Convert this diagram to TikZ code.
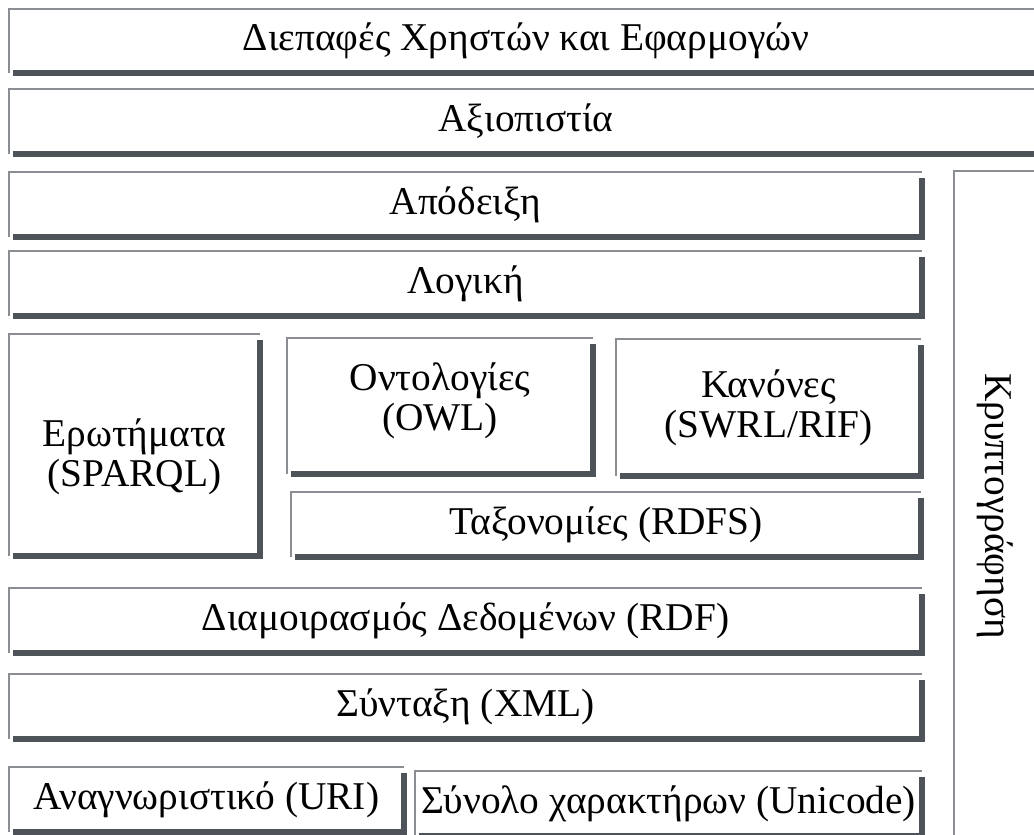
\documentclass[tikz,border=0pt]{standalone}
\usepackage{fontspec}
\setmainfont{Liberation Serif}
\definecolor{edgegray}{HTML}{8A8E92}
\definecolor{shadegray}{HTML}{4E5359}
\tikzset{
  layerfont/.style={font=\fontsize{11.2}{11.3}\selectfont, align=center},
  layer/.style={minimum width=#1, inner sep=0pt, layerfont},
  thinedge/.style={draw=edgegray, line width=0.5pt},
  thickedge/.style={draw=shadegray, line width=0.06cm, line join=miter}
}
\begin{document}
\begin{tikzpicture}[x=1cm,y=1cm]
\useasboundingbox (0,0) rectangle (10.34,8.34);
\clip (0,0) rectangle (10.34,8.34);

% upper layers
\node[layer=10.32cm, minimum height=0.62cm] (ui) at (5.26,7.93) {Διεπαφές Χρηστών και Εφαρμογών};
\node[layer=10.32cm, minimum height=0.63cm] (trust) at (5.26,7.125) {Αξιοπιστία};
\node[layer=9.11cm, minimum height=0.63cm] (proof) at (4.655,6.295) {Απόδειξη};
\node[layer=9.11cm, minimum height=0.63cm] (logic) at (4.655,5.505) {Λογική};

% middle block
\node[layer=2.49cm, minimum height=2.20cm,
      label={[name=querytext, layerfont, yshift=-0.12cm]center:Ερωτήματα\\(SPARQL)}] (query) at (1.345,3.89) {};
\node[layer=3.04cm, minimum height=1.34cm,
      label={[name=ontotext, layerfont, yshift=0.05cm]center:Οντολογίες\\(OWL)}] (onto) at (4.40,4.28) {};
\node[layer=3.03cm, minimum height=1.35cm] (rules) at (7.685,4.265) {Κανόνες\\(SWRL/RIF)};
\node[layer=6.28cm, minimum height=0.63cm] (tax) at (6.06,3.095) {Ταξονομίες (RDFS)};

% lower layers
\node[layer=9.11cm, minimum height=0.63cm] (rdf) at (4.655,2.135) {Διαμοιρασμός Δεδομένων (RDF)};
\node[layer=9.11cm, minimum height=0.63cm] (xml) at (4.655,1.275) {Σύνταξη (XML)};
\node[layer=3.93cm, minimum height=0.63cm] (uri) at (2.065,0.345) {Αναγνωριστικό (URI)};
\node[layer=5.05cm, minimum height=0.63cm] (unicode) at (6.685,0.305) {Σύνολο χαρακτήρων (Unicode)};

% side column
\node[layer=0.80cm, minimum height=6.68cm] (crypto) at (9.95,3.28) {};
\node[layerfont, rotate=-90] (cryptotext) at (crypto.center) {Κρυπτογράφηση};

\foreach \n in {ui,trust,proof,logic,query,onto,rules,tax,rdf,xml,uri,unicode} {
  \draw[thinedge] (\n.south west) |- (\n.north east);
  \draw[thickedge] ([xshift=0.04cm]\n.south west) -| ([yshift=-0.06cm]\n.north east);
}
\draw[thinedge] (crypto.south west) |- (crypto.north east);
\end{tikzpicture}
\end{document}
